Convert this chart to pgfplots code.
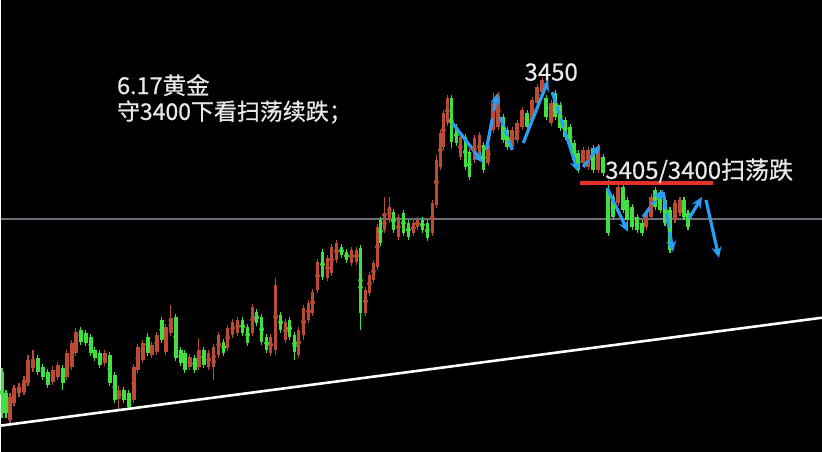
\documentclass[border=0pt]{standalone}
\usepackage{fontspec}
\usepackage{pgfplots}
\usepackage{pgfplotstable}
\pgfplotsset{compat=1.18}
\usetikzlibrary{arrows.meta}
\newfontfamily\cjk{Noto Sans CJK SC}[FakeBold=0.6]
\definecolor{candR}{HTML}{BC4B36}
\definecolor{candG}{HTML}{3FE03F}
\definecolor{arrowB}{HTML}{2A9DF4}
\definecolor{txt}{HTML}{E8E8E8}
\definecolor{hline}{HTML}{6E6E78}
\definecolor{redline}{HTML}{E8302A}

\pgfplotstableread{
x t b h l
9 397 420 393 423
13 388 403 385 406
18 387 393 383 397
23 380 392 376 395
27 360 383 355 386
32 362 368 350 372
52 370 382 366 385
57 365 377 362 380
66 353 377 350 380
71 343 367 340 370
75 332 353 328 356
104 353 363 350 366
118 390 397 385 410
133 367 400 364 403
137 347 370 344 373
142 343 360 340 363
151 345 355 342 358
156 335 352 332 355
165 327 352 324 355
170 318 333 305 336
189 357 367 354 370
198 350 367 338 370
208 353 367 350 370
213 347 367 344 380
218 335 355 332 358
227 328 348 325 351
232 322 335 319 338
237 320 333 317 336
252 307 333 304 336
270 337 353 334 356
275 285 350 278 355
285 322 340 319 343
298 330 355 327 358
303 308 335 305 340
308 303 320 300 323
312 292 313 289 316
317 262 290 259 293
327 258 278 255 281
331 247 273 244 276
336 243 260 240 263
351 250 263 247 266
356 250 262 247 265
365 290 313 287 316
369 275 293 272 296
373 263 280 260 283
377 227 267 224 270
384 217 230 197 233
389 207 220 197 223
398 217 237 214 240
413 223 233 220 236
417 220 227 217 230
432 203 233 200 236
436 160 205 155 208
440 133 167 130 170
443 113 147 110 150
447 98 123 95 126
460 137 157 134 160
474 138 160 135 163
479 135 158 132 161
488 145 163 142 166
493 103 130 93 133
498 95 127 92 130
512 130 147 127 150
517 123 140 120 143
522 110 127 107 130
532 100 120 97 123
537 87 103 84 106
542 80 92 77 95
551 103 123 100 126
583 150 163 147 166
588 150 167 147 170
598 147 170 144 173
618 187 203 184 206
646 213 227 210 230
651 197 217 194 220
675 203 220 200 223
680 200 213 197 216
}\reddata

\pgfplotstableread{
x t b h l
1 372 413 368 418
5 393 413 390 418
37 358 372 355 375
42 367 377 364 380
47 372 385 369 388
62 368 383 365 390
80 330 342 327 345
85 333 343 330 346
90 337 353 334 356
94 350 358 347 361
99 353 365 350 368
109 355 383 352 386
114 375 400 372 403
123 390 400 387 403
128 393 407 390 410
147 337 353 333 356
161 320 340 317 343
175 317 358 314 361
180 350 363 347 366
184 353 370 350 373
194 358 370 355 373
203 350 365 347 368
223 342 353 339 356
242 320 333 317 336
247 327 343 324 346
256 312 323 309 326
261 317 342 314 345
266 337 350 334 353
280 315 330 312 333
289 320 337 317 340
294 335 352 332 360
322 252 277 249 280
341 247 255 244 258
346 252 260 249 263
360 248 313 245 330
380 220 243 217 246
393 212 230 209 233
403 213 233 210 236
408 223 237 220 240
422 220 230 217 233
427 223 238 220 241
451 98 142 95 148
456 127 143 124 146
465 137 167 134 170
469 152 177 149 180
483 145 170 142 173
503 117 140 114 143
507 130 147 127 150
527 113 127 110 130
546 98 117 95 120
555 93 117 90 120
560 105 128 102 131
565 120 137 117 140
570 127 147 124 150
574 143 160 140 163
578 153 170 150 173
593 148 170 145 173
603 157 173 154 176
608 190 233 180 236
613 197 217 194 220
623 187 210 184 213
627 200 220 197 223
632 207 227 204 230
637 217 230 214 233
642 223 233 220 236
655 190 207 187 210
660 193 210 190 213
665 200 223 197 226
670 210 250 207 253
684 200 217 197 220
688 213 227 210 230
}\greendata

\begin{document}
\begin{tikzpicture}
\begin{axis}[
  width=822pt, height=452pt, scale only axis,
  xmin=0, xmax=822, ymin=0, ymax=452, y dir=reverse,
  ticks=none,
  axis line style={draw=black},
  axis background/.style={fill=black},
  clip=true,
]
% gray horizontal line
\addplot[hline, line width=1.6pt, forget plot] coordinates {(0,219) (822,219)};
% wicks
\addplot[forget plot, only marks, mark=none, candR,
  error bars/.cd, y dir=both, y explicit, error mark=none,
  error bar style={line width=1.1pt, candR}]
  table[x=x, y expr={(\thisrow{h}+\thisrow{l})/2}, y error expr={(\thisrow{l}-\thisrow{h})/2}] {\reddata};
\addplot[forget plot, only marks, mark=none, candG,
  error bars/.cd, y dir=both, y explicit, error mark=none,
  error bar style={line width=1.1pt, candG}]
  table[x=x, y expr={(\thisrow{h}+\thisrow{l})/2}, y error expr={(\thisrow{l}-\thisrow{h})/2}] {\greendata};
% bodies
\addplot[forget plot, only marks, mark=none, candR,
  error bars/.cd, y dir=both, y explicit, error mark=none,
  error bar style={line width=3.6pt, candR}]
  table[x=x, y expr={(\thisrow{t}+\thisrow{b})/2}, y error expr={(\thisrow{b}-\thisrow{t})/2}] {\reddata};
\addplot[forget plot, only marks, mark=none, candG,
  error bars/.cd, y dir=both, y explicit, error mark=none,
  error bar style={line width=3.6pt, candG}]
  table[x=x, y expr={(\thisrow{t}+\thisrow{b})/2}, y error expr={(\thisrow{b}-\thisrow{t})/2}] {\greendata};
% trend line
\addplot[white, line width=2.6pt, forget plot] coordinates {(0,426) (822,318)};
% red line
\addplot[redline, line width=4.5pt, forget plot] coordinates {(580,183) (713,183)};
% arrows
\pgfplotsset{arr/.style={arrowB, line width=3.2pt, forget plot, -{Stealth[length=11pt,width=10pt]}}}
\addplot[arr] coordinates {(452,123) (483,163)};
\addplot[arr] coordinates {(486,150) (497,93)};
\addplot[arrowB, line width=3.2pt, forget plot] coordinates {(500,117) (512,150)};
\addplot[arr] coordinates {(523,143) (548,80)};
\addplot[arr] coordinates {(552,92) (578,172)};
\addplot[arr] coordinates {(583,167) (600,145)};
\addplot[arr] coordinates {(607,188) (628,232)};
\addplot[arr] coordinates {(643,217) (663,190)};
\addplot[arr] coordinates {(663,192) (673,252)};
\addplot[arr] coordinates {(687,222) (702,197)};
\addplot[arr] coordinates {(706,200) (719,258)};
% texts
\node[anchor=west, text=txt, inner sep=0pt] at (axis cs:116,85)
  {\cjk\fontsize{23.5}{28}\selectfont 6.17黄金};
\node[anchor=west, text=txt, inner sep=0pt] at (axis cs:116,112)
  {\cjk\fontsize{23}{28}\selectfont 守3400下看扫荡续跌；};
\node[anchor=center, text=txt, inner sep=0pt] at (axis cs:551,72)
  {\cjk\fontsize{24}{28}\selectfont 3450};
\node[anchor=west, text=txt, inner sep=0pt] at (axis cs:605,171)
  {\cjk\fontsize{24}{28}\selectfont 3405/3400扫荡跌};
\end{axis}
\end{tikzpicture}
\end{document}
